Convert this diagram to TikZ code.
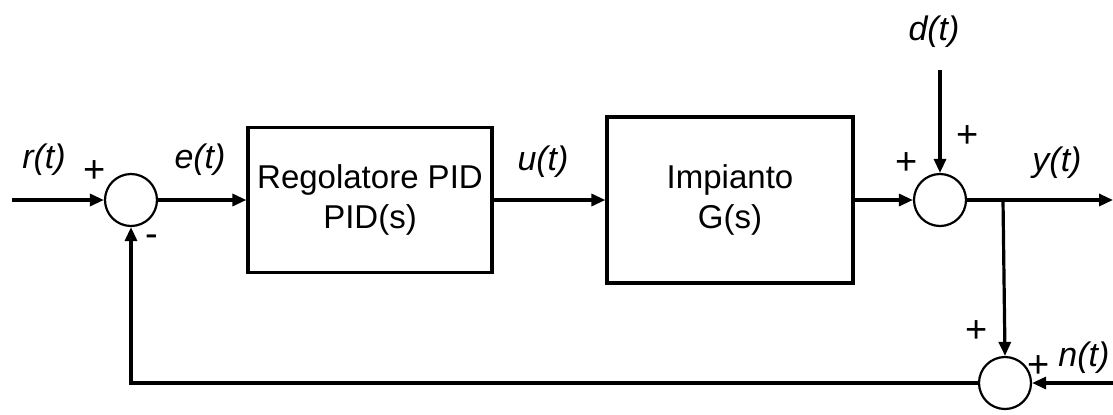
\documentclass[tikz,border=0pt]{standalone}
\usepackage{fontspec}
\setmainfont{Liberation Sans}
\usetikzlibrary{arrows.meta}
\tikzstyle{every node}=[font=\fontsize{16.5}{20}\selectfont]
\tikzstyle{block}=[draw, line width=1.6pt, align=center, inner sep=0pt]
\tikzstyle{sum}=[draw, circle, line width=1.1pt, minimum size=26pt, inner sep=0pt]
\tikzstyle{sig}=[line width=1.6pt, -{Triangle[length=7pt, width=6pt]}]
\tikzstyle{lbl}=[font=\fontsize{17}{20}\selectfont\itshape]
\tikzstyle{sgn}=[font=\fontsize{19}{20}\selectfont]

\begin{document}
\begin{tikzpicture}[x=0.5pt, y=-0.5pt]
\useasboundingbox (0,0) rectangle (1113,414);
% Blocks and junctions
    \node[sum] (s1) at (131,200) {};
    \node[block, minimum width=122pt, minimum height=72.5pt] (pid) at (370,200) {Regolatore PID\\PID(s)};
    \node[block, minimum width=123pt, minimum height=83pt] (plant) at (730,200) {Impianto\\G(s)};
    \node[sum] (s2) at (940,200) {};
    \node[sum] (s3) at (1005,383) {};
    \coordinate (in) at (12,200);
    \coordinate (br) at (1003,200);
    \coordinate (out) at (1113,200);
    \coordinate (dist) at (940,70);
    \coordinate (noise) at (1113,383);
% Signals
    \draw[sig] (in) -- (s1.west);
    \draw[sig] (s1.east) -- (pid.west);
    \draw[sig] (pid.east) -- (plant.west);
    \draw[sig] (plant.east) -- (s2.west);
    \draw[sig] (dist) -- (s2.north);
    \draw[sig] (s2.east) -- (out);
    \draw[sig] (br) -- (s3.north);
    \draw[sig] (noise) -- (s3.east);
    \draw[sig] (s3.west) -| (s1.south);
% Labels
    \node[lbl] (r) at (44,160) {r(t)};
    \node[lbl] (e) at (200,160) {e(t)};
    \node[lbl] (u) at (543,162) {u(t)};
    \node[lbl] (d) at (934,32) {d(t)};
    \node[lbl] (y) at (1057,163) {y(t)};
    \node[lbl, anchor=west, inner sep=0pt] (n) at (1058,358) {n(t)};
% Signs
    \node[sgn] (p1) at (95,172) {+};
    \node[sgn] (m1) at (152,241) {-};
    \node[sgn] (p2) at (907,164) {+};
    \node[sgn] (p3) at (968,137) {+};
    \node[sgn] (p4) at (977,332) {+};
    \node[sgn] (p5) at (1039,367) {+};
\end{tikzpicture}
\end{document}
